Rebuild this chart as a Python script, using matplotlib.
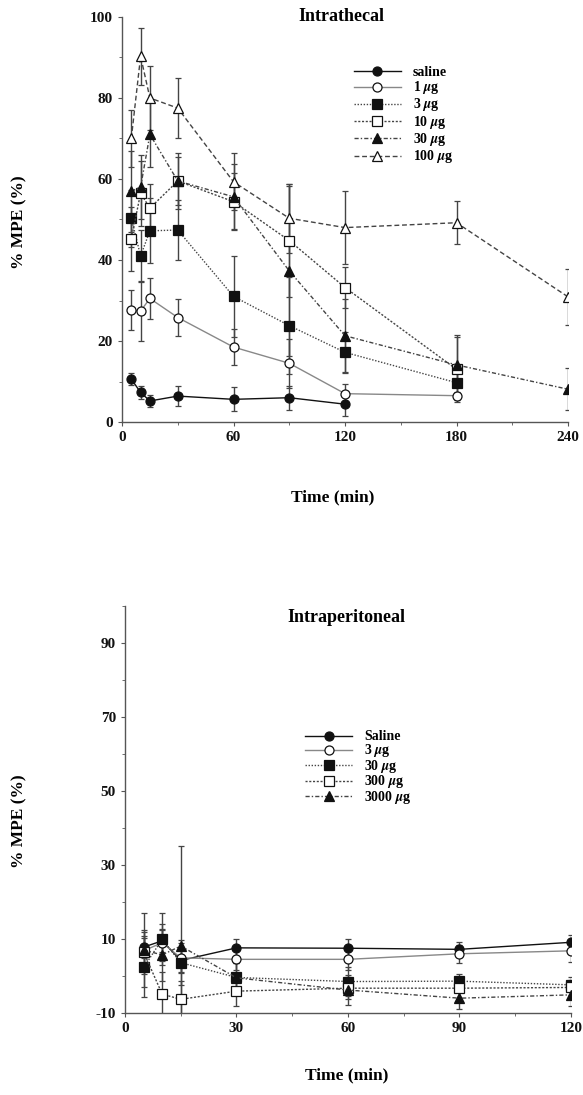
from matplotlib import pyplot as plt
from matplotlib import rcParams
from matplotlib.lines import Line2D
from matplotlib.ticker import MultipleLocator

GREY = '#555555'
DARK = '#111111'

rcParams.update({
  'font.family': 'serif',
  'font.serif': ['Liberation Serif', 'DejaVu Serif'],
  'font.weight': 'bold',
  'mathtext.fontset': 'stix',
  'axes.unicode_minus': False,
  'axes.edgecolor': GREY,
  'axes.linewidth': 1.0,
  'axes.spines.top': False,
  'axes.spines.right': False,
  'xtick.color': GREY,
  'ytick.color': GREY,
  'xtick.labelcolor': DARK,
  'ytick.labelcolor': DARK,
  'xtick.labelsize': 11,
  'ytick.labelsize': 11,
  'xtick.direction': 'out',
  'ytick.direction': 'out',
  'xtick.major.size': 3,
  'ytick.major.size': 3,
  'xtick.minor.size': 2,
  'ytick.minor.size': 2,
})

# intrathecal data
IT_LABELS = ['saline', r'1 $\mu$g', r'3 $\mu$g', r'10 $\mu$g', r'30 $\mu$g', r'100 $\mu$g']
IT_TIME_SHORT = [5, 10, 15, 30, 60, 90, 120]
IT_TIME_MID = [5, 10, 15, 30, 60, 90, 120, 180]
IT_TIME_LONG = [5, 10, 15, 30, 60, 90, 120, 180, 240]

it_saline = [10.6, 7.3, 5.2, 6.4, 5.6, 6.0, 4.4]
it_saline_err = [1.5, 1.5, 1.5, 2.5, 3, 3, 3]
it_1ug = [27.6, 27.4, 30.5, 25.8, 18.5, 14.5, 7.0, 6.5]
it_1ug_err = [5, 7.5, 5, 4.5, 4.5, 6, 2.5, 1]
it_3ug = [50.3, 41, 47.2, 47.4, 31, 23.8, 17.2, 9.7]
it_3ug_err = [7, 6.5, 8, 7.5, 10, 12, 5, 3]
it_10ug = [45.2, 56.5, 52.8, 59.5, 54.4, 44.8, 33.2, 13.0]
it_10ug_err = [8, 8, 6, 6, 7, 14, 5, 8]
it_30ug = [57, 58, 71, 59.5, 55.6, 37.3, 21.3, 14.1, 8.1]
it_30ug_err = [10, 8, 8, 7, 8, 21, 9, 7.5, 5.2]
it_100ug = [70, 90.3, 80, 77.5, 59.3, 50.3, 48, 49.2, 30.9]
it_100ug_err = [7, 7, 8, 7.5, 7, 8.5, 9, 5.3, 7]

# intraperitoneal data
IP_LABELS = ['Saline', r'3 $\mu$g', r'30 $\mu$g', r'300 $\mu$g', r'3000 $\mu$g']
IP_TIME = [5, 10, 15, 30, 60, 90, 120]

ip_saline = [7.8, 9.5, 4.2, 7.6, 7.5, 7.2, 9.1]
ip_saline_err = [3, 3, 3, 2.5, 2.5, 2, 2]
ip_3ug = [6.8, 9.0, 4.9, 4.5, 4.5, 6.0, 6.8]
ip_3ug_err = [5, 5, 4, 3, 3, 2.5, 3]
ip_30ug = [2.3, 9.9, 3.6, -0.4, -1.5, -1.4, -2.4]
ip_30ug_err = [8, 7, 6, 4, 4, 2, 2]
ip_300ug = [6.5, -4.9, -6.3, -4.1, -3.3, -3.3, -3.1]
ip_300ug_err = [6, 6, 5, 4, 3, 3, 2]
ip_3000ug = [7.0, 5.7, 8.1, -0.5, -3.8, -6.0, -5.1]
ip_3000ug_err = [10, 7, 27, 4, 4, 3, 3]

# marker, face, line colour, linestyle
STYLES = [
  ('o', DARK, DARK, '-'),
  ('o', 'white', '#888888', '-'),
  ('s', DARK, '#444444', (0, (1, 1.2))),
  ('s', 'white', '#444444', (0, (1.5, 1.2))),
  ('^', DARK, '#444444', (0, (3, 1.5, 1, 1.5))),
  ('^', 'white', '#444444', (0, (3.5, 2))),
]


def marker_kw(style):
  marker, face, color, ls = style
  return dict(color=color, linestyle=ls, linewidth=1.0, marker=marker,
              markersize=7 if marker == '^' else 6.5, markerfacecolor=face,
              markeredgecolor=DARK, markeredgewidth=0.9)


def draw_series(ax, x, y, err, style):
  ax.errorbar(x, y, yerr=err, ecolor='#444444', elinewidth=1.0,
              capsize=2.5, capthick=1.0, **marker_kw(style))


def style_legend(ax, styles, labels, x, y, spacing):
  handles = [Line2D([], [], **marker_kw(s)) for s in styles]
  leg = ax.legend(handles, labels, loc='upper left', bbox_to_anchor=(x, y),
                  bbox_transform=ax.figure.transFigure, frameon=False, fontsize=10,
                  handlelength=3.4, handletextpad=0.85, labelspacing=spacing,
                  handleheight=0.5, borderpad=0, borderaxespad=0)
  for t in leg.get_texts():
    t.set_fontweight('bold')
  return leg


fig = plt.figure(figsize=(5.83, 10.95), dpi=100)

# --- intrathecal ---
ax1 = fig.add_axes([0.2093, 0.6146, 0.765, 0.3699])
it_sets = [
  (IT_TIME_SHORT, it_saline, it_saline_err),
  (IT_TIME_MID, it_1ug, it_1ug_err),
  (IT_TIME_MID, it_3ug, it_3ug_err),
  (IT_TIME_MID, it_10ug, it_10ug_err),
  (IT_TIME_LONG, it_30ug, it_30ug_err),
  (IT_TIME_LONG, it_100ug, it_100ug_err),
]
for (x, y, e), style in zip(it_sets, STYLES):
  draw_series(ax1, x, y, e, style)

ax1.set_xlim(0, 240)
ax1.set_ylim(0, 100)
ax1.set_xticks([0, 60, 120, 180, 240])
ax1.xaxis.set_minor_locator(MultipleLocator(30))
ax1.set_yticks([0, 20, 40, 60, 80, 100])
ax1.yaxis.set_minor_locator(MultipleLocator(10))
style_legend(ax1, STYLES, IT_LABELS, 0.607, 0.940, 0.02)

fig.text(0.585, 0.985, 'Intrathecal', ha='center', va='center', fontsize=13, fontweight='bold')
fig.text(0.571, 0.546, 'Time (min)', ha='center', va='center', fontsize=12.5, fontweight='bold')
fig.text(0.034, 0.797, '% MPE (%)', ha='center', va='center', rotation=90, fontsize=12.5, fontweight='bold')

# --- intraperitoneal ---
ax2 = fig.add_axes([0.2144, 0.0749, 0.765, 0.3717])
ip_sets = [
  (ip_saline, ip_saline_err),
  (ip_3ug, ip_3ug_err),
  (ip_30ug, ip_30ug_err),
  (ip_300ug, ip_300ug_err),
  (ip_3000ug, ip_3000ug_err),
]
ip_styles = STYLES[:5]
for (y, e), style in zip(ip_sets, ip_styles):
  draw_series(ax2, IP_TIME, y, e, style)

ax2.set_xlim(0, 120)
ax2.set_ylim(-10, 100)
ax2.set_xticks([0, 30, 60, 90, 120])
ax2.xaxis.set_minor_locator(MultipleLocator(15))
ax2.set_yticks([-10, 10, 30, 50, 70, 90])
ax2.yaxis.set_minor_locator(MultipleLocator(10))
style_legend(ax2, ip_styles, IP_LABELS, 0.523, 0.333, -0.1)

fig.text(0.595, 0.4365, 'Intraperitoneal', ha='center', va='center', fontsize=13, fontweight='bold')
fig.text(0.595, 0.018, 'Time (min)', ha='center', va='center', fontsize=12.5, fontweight='bold')
fig.text(0.034, 0.25, '% MPE (%)', ha='center', va='center', rotation=90, fontsize=12.5, fontweight='bold')

plt.savefig('out.png', dpi=100, facecolor='white')
